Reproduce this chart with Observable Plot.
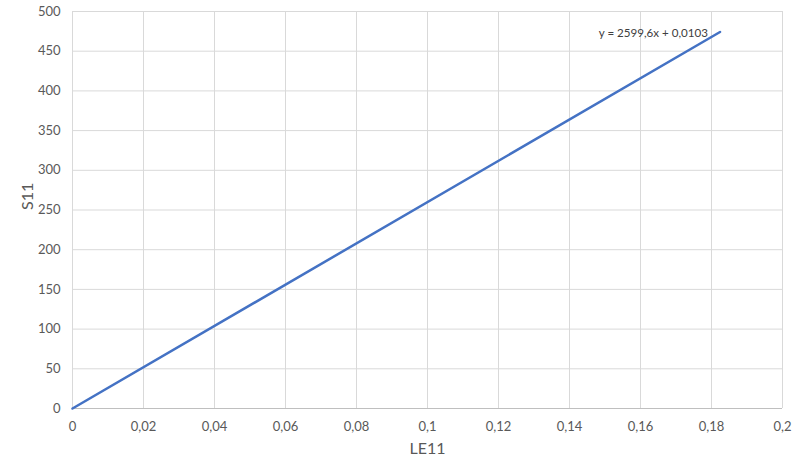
<!DOCTYPE html>
<html><head><meta charset="utf-8">
<script src="https://cdn.jsdelivr.net/npm/d3@7"></script>
<script src="https://cdn.jsdelivr.net/npm/@observablehq/plot@0.6"></script>
<style>
body{margin:0;background:#fff;}
#chart svg{font-family:Lato,"Open Sans",sans-serif;}
</style>
</head><body><div id="chart"></div>
<script>
const le11 = [0, 0.1824];
const s11 = [0, 474.2];
const xTicks = [0, 0.02, 0.04, 0.06, 0.08, 0.1, 0.12, 0.14, 0.16, 0.18, 0.2];
const yTicks = [0, 50, 100, 150, 200, 250, 300, 350, 400, 450, 500];
const equationLabel = "y = 2599,6x + 0,0103";

const data = le11.map((x, i) => ({x, y: s11[i]}));
const fmt = d => String(d).replace(".", ",");
const grey = "#595959";

const chart = Plot.plot({
  width: 800, height: 465,
  marginLeft: 72, marginRight: 18, marginTop: 11, marginBottom: 57,
  style: {fontSize: "13px", color: grey, background: "#fff"},
  x: {domain: [0, 0.2], ticks: xTicks, tickFormat: fmt, label: null},
  y: {domain: [0, 500], ticks: yTicks, tickFormat: fmt, label: null},
  marks: [
    Plot.gridX(xTicks, {stroke: "#d9d9d9", strokeOpacity: 1}),
    Plot.gridY(yTicks, {stroke: "#d9d9d9", strokeOpacity: 1}),
    Plot.ruleY([0], {stroke: "#bfbfbf"}),
    Plot.axisX({ticks: xTicks, tickFormat: fmt, tickSize: 0, tickPadding: 13, label: null, fill: grey}),
    Plot.axisY({ticks: yTicks, tickFormat: fmt, tickSize: 0, tickPadding: 12, label: null, fill: grey}),
    Plot.line(data, {x: "x", y: "y", stroke: "#4472C4", strokeWidth: 2.5}),
    Plot.text([data[data.length - 1]], {x: "x", y: "y", text: () => equationLabel, textAnchor: "end", dx: -12, dy: 1, fontSize: 11.6, fill: "#404040"}),
    Plot.text(["LE11"], {frameAnchor: "bottom", dy: 45, fontSize: 16, fill: grey}),
    Plot.text(["S11"], {frameAnchor: "left", dx: -45, rotate: -90, fontSize: 16, fill: grey})
  ]
});
document.getElementById("chart").append(chart);
</script>
</body></html>
